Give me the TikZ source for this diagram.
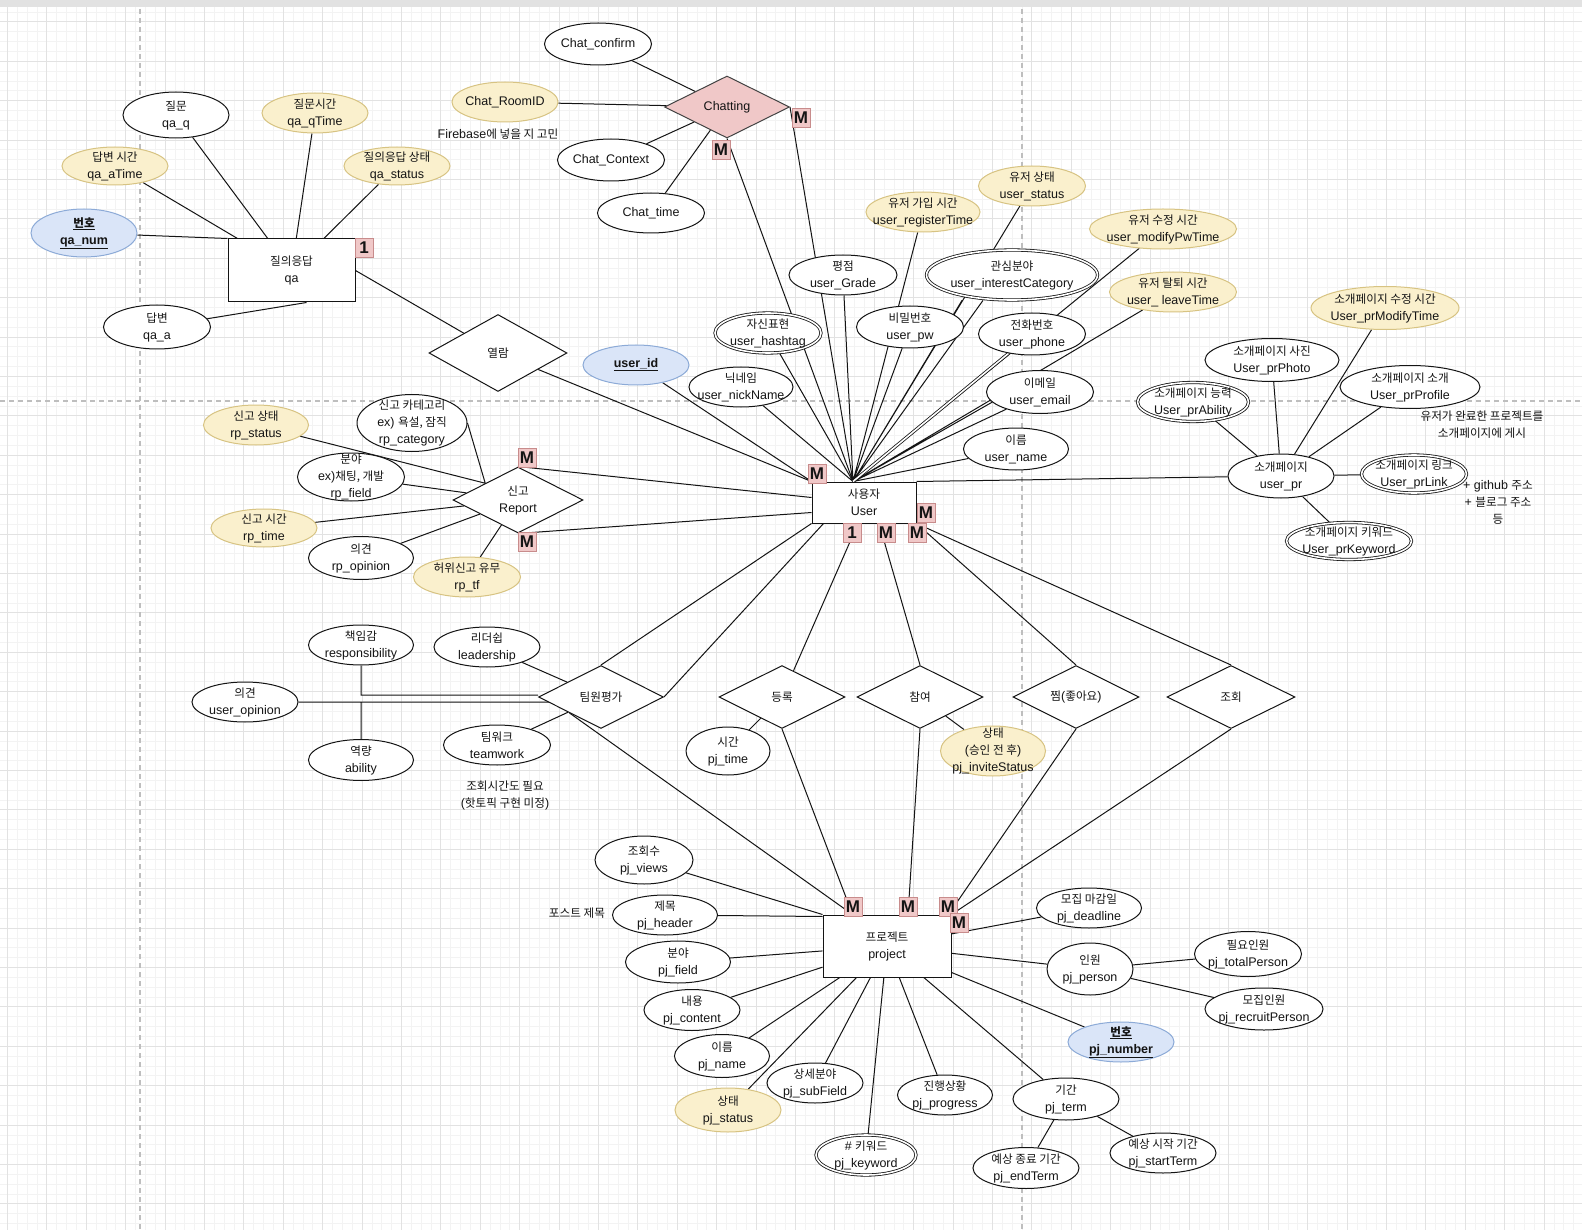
\documentclass[tikz,border=0pt]{standalone}
\usepackage{fontspec}
\setmainfont{Liberation Sans}
\newfontfamily\krfont{Noto Sans CJK KR}[Scale=0.93]
\usetikzlibrary{shapes.geometric,calc}
\newcommand\K[1]{{\krfont #1}}
\definecolor{yfill}{RGB}{250,240,205}
\definecolor{ydraw}{RGB}{215,195,130}
\definecolor{bfill}{RGB}{218,229,248}
\definecolor{bdraw}{RGB}{140,170,215}
\definecolor{pfill}{RGB}{240,200,200}
\definecolor{pdraw}{RGB}{200,140,140}
\definecolor{gmin}{RGB}{243,243,243}
\definecolor{gmaj}{RGB}{226,226,226}
\definecolor{gdash}{RGB}{190,190,190}
\definecolor{ink}{RGB}{20,20,20}
\pgfdeclarelayer{grid}
\pgfdeclarelayer{bg}
\pgfsetlayers{grid,bg,main}
\tikzset{
  attr/.style={ellipse, draw=ink, line width=1pt, fill=white, inner sep=0pt},
  yattr/.style={attr, fill=yfill, draw=ydraw},
  battr/.style={attr, fill=bfill, draw=bdraw},
  dattr/.style={attr, double=white, double distance=1.6pt, line width=0.8pt},
  txt/.style={inner sep=0pt, align=center, text=ink, font=\fontsize{12.5}{17}\selectfont},
  ent/.style={rectangle, draw=ink, line width=1pt, fill=white, inner sep=0pt, align=center, text=ink, font=\fontsize{12.5}{17}\selectfont},
  rel/.style={diamond, draw=ink, line width=1pt, fill=white, inner sep=0pt, aspect=2, align=center, text=ink, font=\fontsize{12.5}{17}\selectfont},
  badge/.style={rectangle, fill=pfill, draw=pdraw, line width=0.8pt, inner sep=0pt, minimum width=18pt, minimum height=19pt, text=ink, font=\fontsize{17}{17}\selectfont\bfseries},
  link/.style={draw=ink, line width=1pt}
}
\newcommand\AT[6][attr]{%
  \node[#1, minimum width=#4pt, minimum height=#5pt] (#2) at #3 {};
  \node[txt] (#2-t) at (#2.center) {#6};}
\begin{document}
\begin{tikzpicture}[x=1pt,y=-1pt]
\useasboundingbox (0,0) rectangle (1582,1230);
% ---------------- QA ----------------
\AT{qaq}{(176,115)}{106}{46}{\K{질문}\\qa\_q}
\AT[yattr]{qaqt}{(315,113)}{106}{40}{\K{질문시간}\\qa\_qTime}
\AT[yattr]{qaat}{(115,166)}{106}{38}{\K{답변 시간}\\qa\_aTime}
\AT[yattr]{qast}{(397,166)}{106}{38}{\K{질의응답 상태}\\qa\_status}
\AT[battr]{qanum}{(84,233)}{106}{48}{\K{\bfseries\underline{번호}}\\\underline{\textbf{qa\_num}}}
\node[ent, minimum width=127pt, minimum height=63pt] (qa) at (291.5,270.5) {\K{질의응답}\\qa};
\AT{qaa}{(157,327)}{107}{44}{\K{답변}\\qa\_a}
\node[rel, minimum width=138pt, minimum height=77pt] (yeol) at (498,353) {\K{열람}};
% ---------------- Chatting ----------------
\AT{confirm}{(598,44)}{107}{42}{Chat\_confirm}
\AT[yattr]{roomid}{(505,102)}{106}{40}{Chat\_RoomID}
\node[txt] (fbnote) at (498,134) {Firebase\K{에 넣을 지 고민}};
\node[rel, fill=pfill, draw=ink!80, minimum width=125pt, minimum height=62pt] (chatting) at (727,107) {Chatting};
\AT{context}{(611,160)}{107}{42}{Chat\_Context}
\AT{ctime}{(651,213)}{107}{40}{Chat\_time}
% ---------------- User attributes ----------------
\AT{grade}{(843,275)}{108}{40}{\K{평점}\\user\_Grade}
\AT[yattr]{regtime}{(923,212)}{114}{40}{\K{유저 가입 시간}\\user\_registerTime}
\AT[yattr]{ustatus}{(1032,186)}{107}{40}{\K{유저 상태}\\user\_status}
\AT[yattr]{modtime}{(1163,229)}{147}{40}{\K{유저 수정 시간}\\user\_modifyPwTime}
\AT[dattr]{interest}{(1012,275)}{171}{50}{\K{관심분야}\\user\_interestCategory}
\AT[yattr]{leavetime}{(1173,292)}{127}{40}{\K{유저 탈퇴 시간}\\user\_ leaveTime}
\AT[dattr]{hashtag}{(768,333)}{106}{40}{\K{자신표현}\\user\_hashtag}
\AT{pw}{(910,327)}{107}{42}{\K{비밀번호}\\user\_pw}
\AT{phone}{(1032,334)}{107}{42}{\K{전화번호}\\user\_phone}
\AT[battr]{userid}{(636,365)}{106}{40}{\underline{\textbf{user\_id}}}
\AT{nick}{(741,387)}{104}{40}{\K{닉네임}\\user\_nickName}
\AT{email}{(1040,392)}{107}{43}{\K{이메일}\\user\_email}
\AT{uname}{(1016,449)}{105}{42}{\K{이름}\\user\_name}
\node[ent, minimum width=104pt, minimum height=41pt] (User) at (864,502.5) {\K{사용자}\\User};
\coordinate (utop) at ([xshift=-11pt]User.north);
% ---------------- user_pr ----------------
\AT[yattr]{prmod}{(1385,308)}{148}{43}{\K{소개페이지 수정 시간}\\User\_prModifyTime}
\AT{prphoto}{(1272,360)}{134}{43}{\K{소개페이지 사진}\\User\_prPhoto}
\AT[dattr]{prability}{(1193,402)}{111}{39}{\K{소개페이지 능력}\\User\_prAbility}
\AT{prprofile}{(1410,387)}{140}{43}{\K{소개페이지 소개}\\User\_prProfile}
\node[txt] (prnote) at (1482,425) {\K{유저가 완료한 프로젝트를}\\\K{소개페이지에 게시}};
\AT{userpr}{(1281,476)}{106}{44}{\K{소개페이지}\\user\_pr}
\AT[dattr]{prlink}{(1414,474)}{105}{38}{\K{소개페이지 링크}\\User\_prLink}
\node[txt] (ghnote) at (1498,502) {+ github \K{주소}\\+ \K{블로그 주소}\\\K{등}};
\AT[dattr]{prkeyword}{(1349,541)}{125}{37}{\K{소개페이지 키워드}\\User\_prKeyword}
% ---------------- Report ----------------
\AT[yattr]{rpstatus}{(256,425)}{105}{40}{\K{신고 상태}\\rp\_status}
\AT{rpcat}{(412,423)}{110}{57}{\K{신고 카테고리}\\ex) \K{욕설, 잠직}\\rp\_category}
\AT{rpfield}{(351,477)}{107}{48}{\K{분야}\\ex)\K{채팅, 개발}\\rp\_field}
\node[rel, minimum width=130pt, minimum height=66pt] (report) at (518,500) {\K{신고}\\Report};
\AT[yattr]{rptime}{(264,528)}{106}{38}{\K{신고 시간}\\rp\_time}
\AT{rpop}{(361,558)}{105}{43}{\K{의견}\\rp\_opinion}
\AT[yattr]{rptf}{(467,577)}{107}{40}{\K{허위신고 유무}\\rp\_tf}
% ---------------- Team evaluation ----------------
\AT{resp}{(361,645)}{105}{40}{\K{책임감}\\responsibility}
\AT{lead}{(487,647)}{106}{40}{\K{리더쉽}\\leadership}
\AT{uop}{(245,702)}{106}{40}{\K{의견}\\user\_opinion}
\AT{abil}{(361,760)}{105}{41}{\K{역량}\\ability}
\AT{teamw}{(497,745)}{107}{40}{\K{팀워크}\\teamwork}
\node[rel, minimum width=125pt, minimum height=63pt] (team) at (601,697) {\K{팀원평가}};
\node[txt] (teamnote) at (505,795) {\K{조회시간도 필요}\\(\K{핫토픽 구현 미정})};
% ---------------- Relations to project ----------------
\node[rel, minimum width=126pt, minimum height=63pt] (reg) at (782,697) {\K{등록}};
\node[rel, minimum width=126pt, minimum height=63pt] (join) at (920,697) {\K{참여}};
\node[rel, minimum width=126pt, minimum height=63pt] (like) at (1076,697) {\K{찜}(\K{좋아요})};
\node[rel, minimum width=128pt, minimum height=63pt] (view) at (1231,697) {\K{조회}};
\AT{pjtime}{(728,751)}{84}{48}{\K{시간}\\pj\_time}
\AT[yattr]{invite}{(993,751)}{105}{50}{\K{상태}\\(\K{승인 전 후})\\pj\_inviteStatus}
% ---------------- Project ----------------
\node[ent, minimum width=128pt, minimum height=62pt] (project) at (887,946) {\K{프로젝트}\\project};
\coordinate (pnw) at ([xshift=30pt]project.north west);
\AT{pjviews}{(644,860)}{98}{48}{\K{조회수}\\pj\_views}
\AT{pjheader}{(665,915)}{105}{40}{\K{제목}\\pj\_header}
\node[txt] (postnote) at (577,913) {\K{포스트 제목}};
\AT{pjfield}{(678,962)}{105}{42}{\K{분야}\\pj\_field}
\AT{pjcontent}{(692,1010)}{96}{41}{\K{내용}\\pj\_content}
\AT{pjname}{(722,1056)}{95}{43}{\K{이름}\\pj\_name}
\AT{pjsub}{(815,1083)}{96}{40}{\K{상세분야}\\pj\_subField}
\AT[yattr]{pjstatus}{(728,1110)}{106}{44}{\K{상태}\\pj\_status}
\AT[dattr]{pjkeyword}{(866,1155)}{100}{40}{\# \K{키워드}\\pj\_keyword}
\AT{pjprogress}{(945,1095)}{95}{40}{\K{진행상황}\\pj\_progress}
\AT{pjterm}{(1066,1099)}{106}{42}{\K{기간}\\pj\_term}
\AT{pjend}{(1026,1168)}{106}{41}{\K{예상 종료 기간}\\pj\_endTerm}
\AT{pjstart}{(1163,1153)}{106}{40}{\K{예상 시작 기간}\\pj\_startTerm}
\AT[battr]{pjnumber}{(1121,1042)}{106}{40}{\K{\bfseries\underline{번호}}\\\underline{\textbf{pj\_number}}}
\AT{pjperson}{(1090,969)}{86}{52}{\K{인원}\\pj\_person}
\AT{pjtotal}{(1248,954)}{107}{45}{\K{필요인원}\\pj\_totalPerson}
\AT{pjrecruit}{(1264,1009)}{118}{42}{\K{모집인원}\\pj\_recruitPerson}
\AT{pjdeadline}{(1089,908)}{105}{40}{\K{모집 마감일}\\pj\_deadline}
% ---------------- Badges ----------------
\node[badge] (b1) at (364,248) {1};
\node[badge] (b2) at (801,118) {M};
\node[badge] (b3) at (721,150) {M};
\node[badge] (b4) at (817,474) {M};
\node[badge] (b5) at (926,513) {M};
\node[badge] (b6) at (852,533) {1};
\node[badge] (b7) at (886,533) {M};
\node[badge] (b8) at (917,533) {M};
\node[badge] (b9) at (527,458) {M};
\node[badge] (b10) at (527,542) {M};
\node[badge] (b11) at (853,907) {M};
\node[badge] (b12) at (908,907) {M};
\node[badge] (b13) at (948,907) {M};
\node[badge] (b14) at (959,923) {M};
% ---------------- Connectors ----------------
\begin{pgfonlayer}{bg}
\path[link] (qaat) -- (qa) (qaq) -- (qa) (qaqt) -- (qa) (qast) -- (qa)
  (qanum) -- (qa.north west) ([xshift=15pt]qa.south) -- (qaa) (qa.east) -- (yeol)
  (yeol) -- (User.north west);
\path[link] (confirm) -- (chatting) (roomid) -- (chatting) (context) -- (chatting) (ctime) -- (chatting)
  (chatting.south) -- (utop) (chatting.east) -- (utop);
\path[link] (grade) -- (utop) (regtime) -- (utop) (ustatus) -- (utop) (modtime) -- (utop)
  ([xshift=-50pt]interest.south) -- (utop) ([xshift=-29pt]interest.south) -- (utop)
  (leavetime) -- (utop) (hashtag) -- (utop) (pw) -- (utop) (nick) -- (utop)
  (email.192) -- (utop) (email.207) -- (utop) (uname) -- (utop)
  (userid) -- (User.north west);
\path[link, double=white, double distance=1.6pt, line width=0.8pt] (phone) -- (utop);
\path[link] (userpr) -- (User.north east)
  (prability) -- (userpr) (prphoto) -- (userpr) (prmod) -- (userpr) (prprofile) -- (userpr)
  (prlink) -- (userpr) (prkeyword) -- (userpr);
\path[link] (rpstatus) -- (report.north west) (rpcat.east) -- (report.north west) (rpfield) -- (report)
  (rptime) -- (report) (rpop) -- (report) (rptf) -- (report)
  (report.north) -- ([yshift=5pt]User.west) (report.south) -- ([yshift=-10pt]User.west);
\path[link] (lead) -- (team) (teamw) -- (team)
  (resp.south) |- ([yshift=2pt]team.west)
  (uop.east) -- (uop.east -| team.center)
  (abil.north) -- (abil.north |- uop.east)
  (team.north) -- (User.south west) (team.east) -- ([xshift=12pt]User.south west)
  (team.south west) -- (pnw);
\path[link] (reg) -- ([xshift=-6pt]User.south) (reg.south) -- (pnw) (reg) -- (pjtime)
  (join.north) -- ([xshift=15pt]User.south) (join.south) -- ([xshift=21pt]project.north) (join) -- (invite)
  (like.north) -- (User.south east) (like.south) -- ([xshift=-3pt]project.north east)
  (view.north) -- (User.south east) (view.south) -- (project.north east);
\path[link] (pjviews) -- (project.north west) (pjheader) -- ([yshift=-2pt]project.north west)
  (pjfield) -- (project) (pjcontent) -- (project) (pjname) -- (project) (pjsub) -- (project)
  (pjstatus) -- (project) (pjkeyword) -- (project) (pjprogress) -- (project) (pjterm) -- (project)
  (pjnumber) -- (project) (pjperson) -- (project) (pjdeadline) -- (project)
  (pjterm) -- (pjend) (pjterm) -- (pjstart) (pjperson) -- (pjtotal) (pjperson) -- (pjrecruit);
\end{pgfonlayer}
% ---------------- Grid ----------------
\begin{pgfonlayer}{grid}
\fill[white] (0,0) rectangle (1582,1230);
\foreach \i in {0,...,161}{\draw[gmin,line width=0.5pt] ({-2.55+\i*9.85},0) -- ({-2.55+\i*9.85},1230);}
\foreach \i in {0,...,125}{\draw[gmin,line width=0.5pt] (0,{2+\i*9.85}) -- (1582,{2+\i*9.85});}
\foreach \i in {0,...,40}{\draw[gmaj,line width=0.7pt] ({7.3+\i*39.4},0) -- ({7.3+\i*39.4},1230);}
\foreach \i in {0,...,31}{\draw[gmaj,line width=0.7pt] (0,{21.7+\i*39.4}) -- (1582,{21.7+\i*39.4});}
\draw[gdash, line width=1.2pt, dash pattern=on 5pt off 4pt] (140,0) -- (140,1230);
\draw[gdash, line width=1.2pt, dash pattern=on 5pt off 4pt] (1022,0) -- (1022,1230);
\draw[gdash, line width=1.2pt, dash pattern=on 5pt off 4pt] (0,401) -- (1582,401);
\fill[gmaj] (0,0) rectangle (1582,7);
\end{pgfonlayer}
\end{tikzpicture}
\end{document}
